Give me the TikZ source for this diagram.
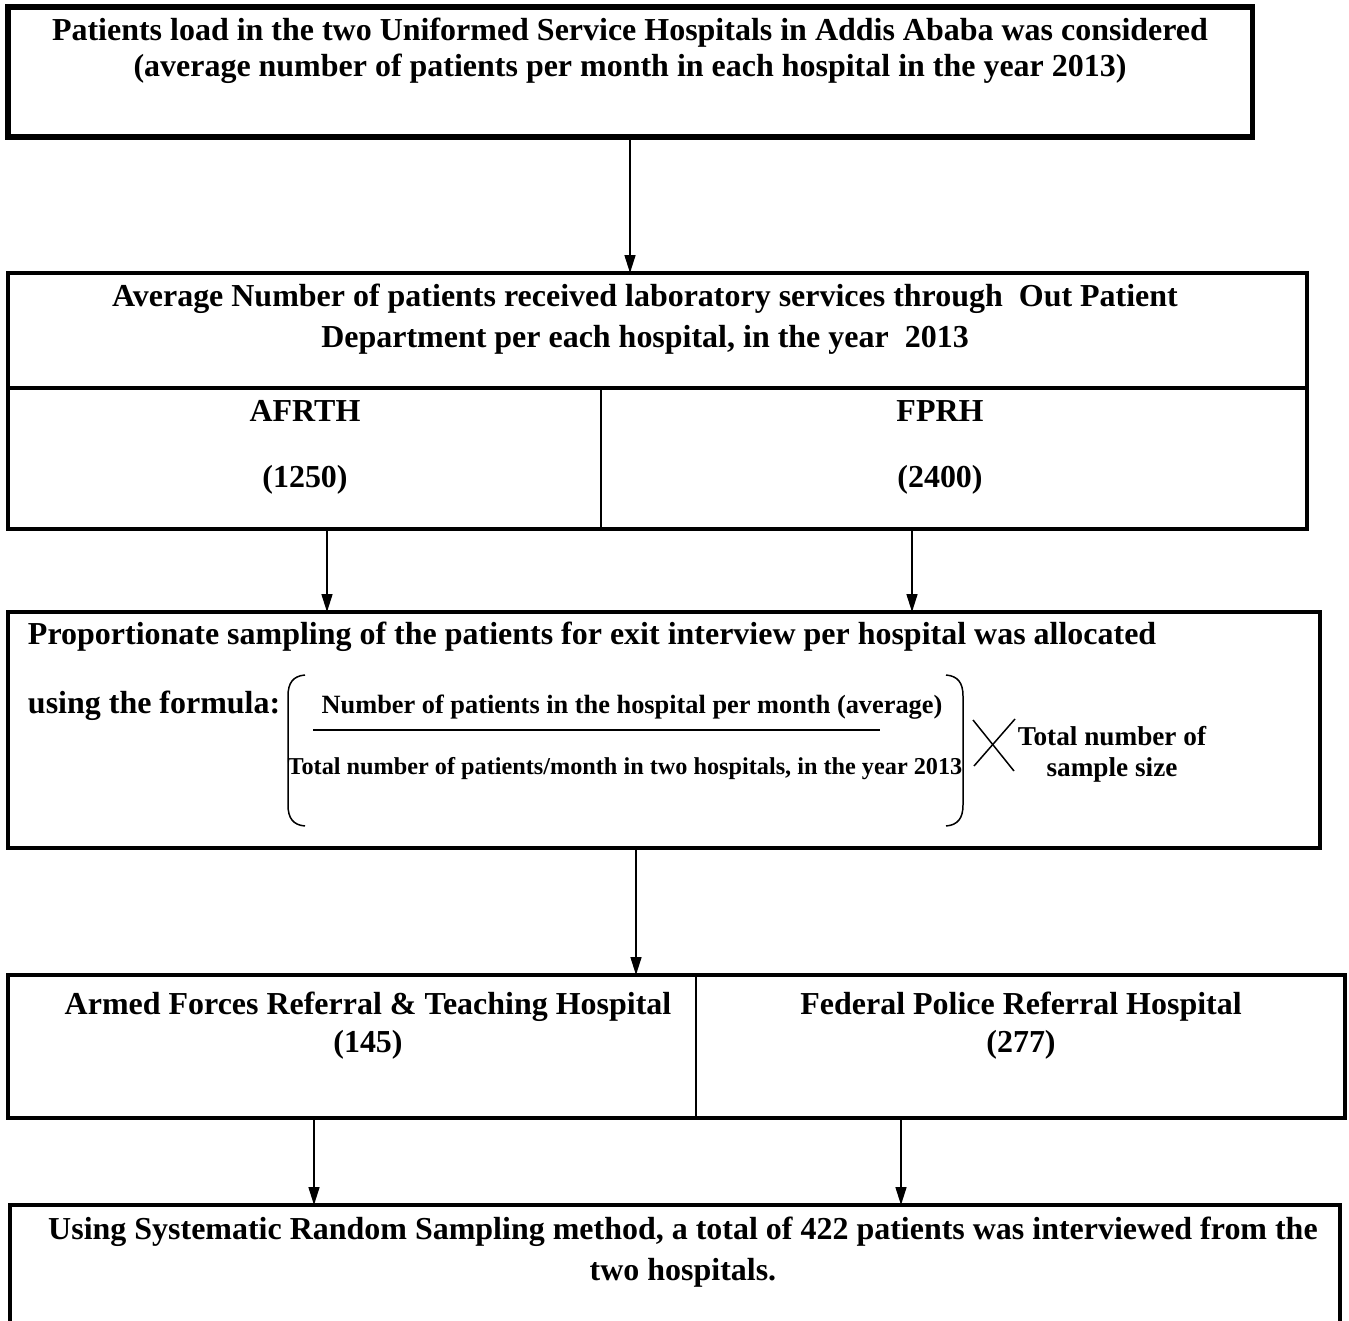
\documentclass[tikz,border=0pt]{standalone}
\usepackage{fontspec}
\setmainfont{Liberation Serif}
\usepackage{tikz}
\usetikzlibrary{arrows.meta}

\begin{document}
\begin{tikzpicture}[x=0.02cm, y=-0.02cm, >={Triangle[length=3.6mm,width=2.2mm]}, align=center]

    \tikzstyle{every node}=[inner sep=0pt, outer sep=0pt]
    \tikzstyle{frame}=[draw=black, line width=2.3pt, anchor=north west]
    \tikzstyle{big}=[font=\bfseries\fontsize{18.2}{23.3}\selectfont]
    \tikzstyle{small}=[font=\bfseries\fontsize{15}{17}\selectfont]
    \tikzstyle{flow}=[->, line width=0.9pt]
    \tikzstyle{thin}=[line width=0.85pt]

    \useasboundingbox (0,0) rectangle (1349,1321);

    % boxes
    \node[frame, line width=3pt, minimum width=24.9cm, minimum height=2.6cm] (load) at (8,7) {};
    \node[frame, minimum width=25.98cm, minimum height=5.12cm] (avgbox) at (8,273) {};
    \node[frame, minimum width=26.24cm, minimum height=4.72cm] (propbox) at (8,612) {};
    \node[frame, line width=2pt, minimum width=26.74cm, minimum height=2.86cm] (hospbox) at (8,975) {};
    \node[frame, minimum width=26.6cm, minimum height=2.8cm] (srs) at (10,1205) {};

    \draw[line width=2.3pt] (avgbox.west |- 0,388) -- (avgbox.east |- 0,388);
    \draw[thin] (601,388) -- (avgbox.south -| 601,0);
    \draw[thin] (hospbox.north -| 696,0) -- (hospbox.south -| 696,0);

    % texts
    \node[big, font=\bfseries\fontsize{18.2}{20.5}\selectfont] (loadtxt) at (630,51)
        {Patients load in the two Uniformed Service Hospitals in Addis Ababa was considered\\
         (average number of patients per month in each hospital in the year 2013)};
    \node[big] (avgtxt) at (645,319)
        {Average Number of patients received laboratory services through~ Out Patient\\
         Department per each hospital, in the year~ 2013};
    \node[big] (afrth) at (305,411) {AFRTH};
    \node[big] (afrthn) at (305,480) {(1250)};
    \node[big] (fprh) at (940,411) {FPRH};
    \node[big] (fprhn) at (940,480) {(2400)};

    \node[big, anchor=west] (proptxt) at (28,637)
        {Proportionate sampling of the patients for exit interview per hospital was allocated};
    \node[big, anchor=west] (usetxt) at (28,706) {using the formula:};
    \node[small] (numer) at (632,707) {Number of patients in the hospital per month (average)};
    \node[small, font=\bfseries\fontsize{13.8}{17}\selectfont] (denom) at (625,769)
        {Total number of patients/month in two hospitals, in the year 2013};
    \node[small, font=\bfseries\fontsize{15.5}{17.5}\selectfont] (total) at (1112,754)
        {Total number of\\sample size};

    \node[big, font=\bfseries\fontsize{18.2}{21.5}\selectfont] (afrh) at (368,1026)
        {Armed Forces Referral \& Teaching Hospital\\(145)};
    \node[big, font=\bfseries\fontsize{18.2}{21.5}\selectfont] (fprhosp) at (1021,1026)
        {Federal Police Referral Hospital\\(277)};
    \node[big] (srstxt) at (683,1252)
        {Using Systematic Random Sampling method, a total of 422 patients was interviewed from the\\
         two hospitals.};

    % formula
    \draw[line width=1.1pt] (313,730) -- (880,730);
    \draw[thin] (305,675) .. controls (293,676) and (288,683) .. (288,696) -- (288,805)
        .. controls (288,818) and (293,825) .. (305,826);
    \draw[thin] (946,675) .. controls (958,676) and (963,683) .. (963,696) -- (963,805)
        .. controls (963,818) and (958,825) .. (946,826);
    \draw[thin] (973,720) -- (1014,771);
    \draw[thin] (1015,719) -- (974,766);

    % arrows
    \draw[flow] (load.south -| 630,0) -- (avgbox.north -| 630,0);
    \draw[flow] (avgbox.south -| 327,0) -- (propbox.north -| 327,0);
    \draw[flow] (avgbox.south -| 912,0) -- (propbox.north -| 912,0);
    \draw[flow] (propbox.south -| 636,0) -- (hospbox.north -| 636,0);
    \draw[flow] (hospbox.south -| 314,0) -- (srs.north -| 314,0);
    \draw[flow] (hospbox.south -| 901,0) -- (srs.north -| 901,0);
\end{tikzpicture}
\end{document}
